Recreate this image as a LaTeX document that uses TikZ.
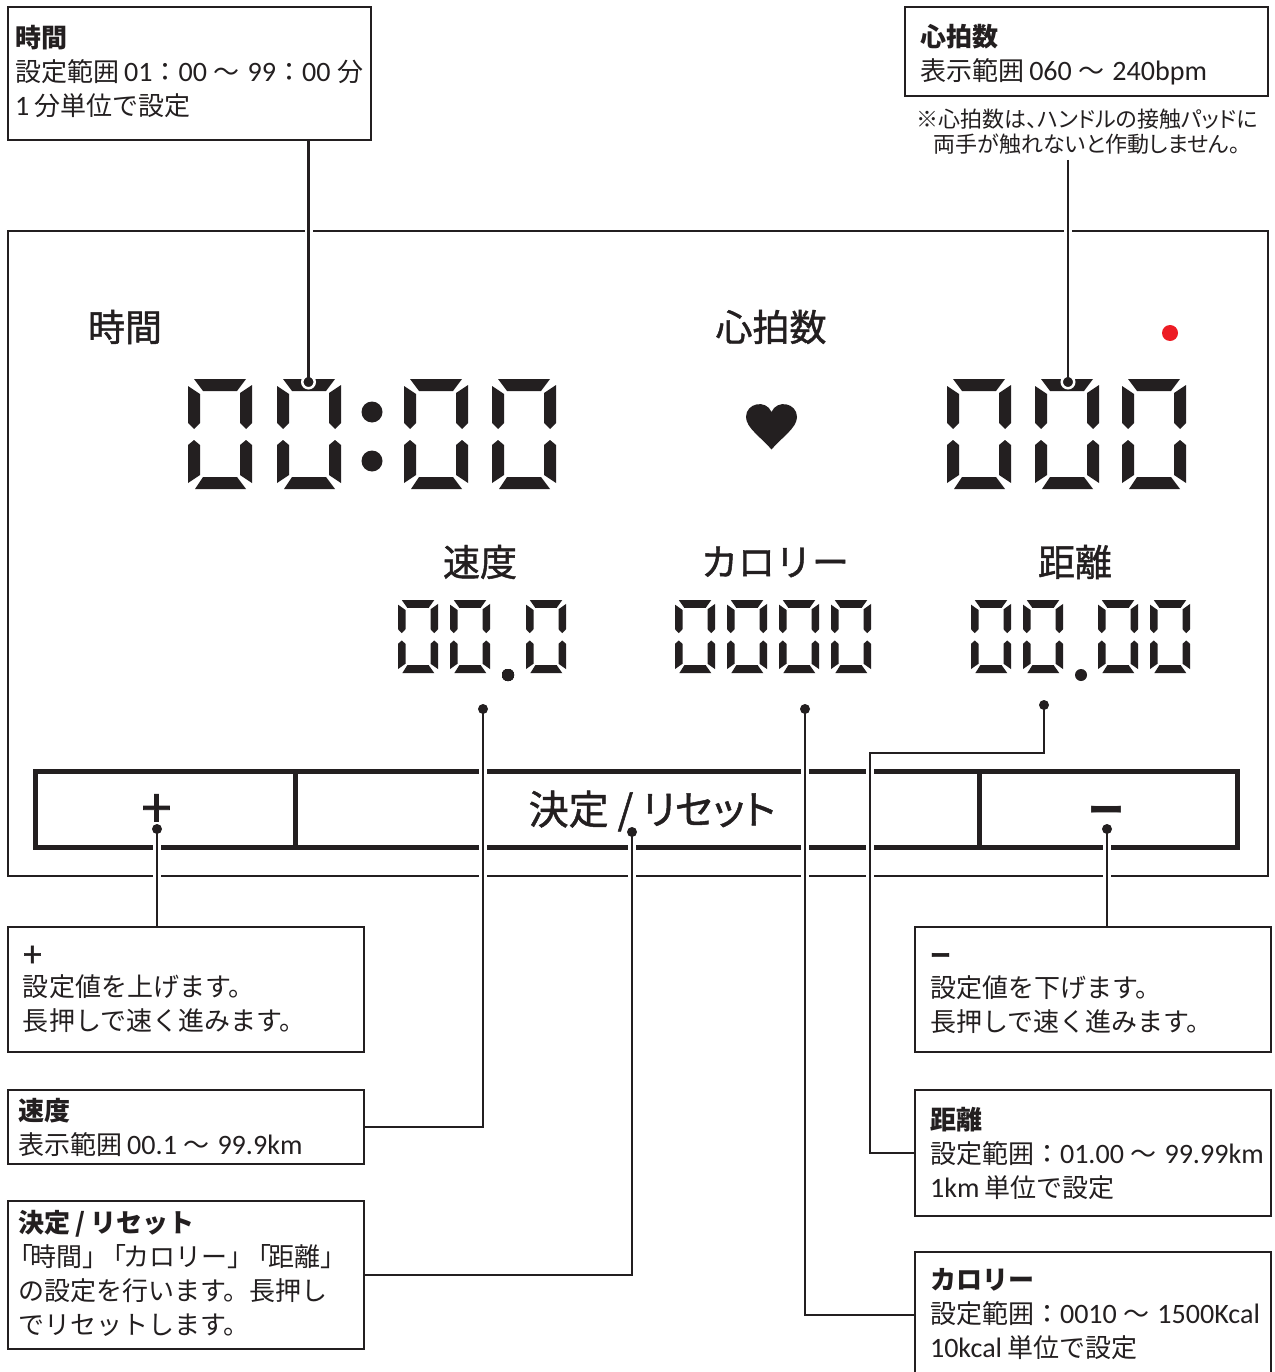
\documentclass[tikz,border=0pt]{standalone}
\usepackage{fontspec}
\setmainfont{Noto Sans CJK JP}[WordSpace=0.9]
\newfontfamily\la{Carlito}[Scale=1.08]
\newfontfamily\pj{Noto Sans CJK JP}[RawFeature=+palt]
\newfontfamily\semi{Noto Sans CJK JP}[FakeBold=1.2]
\newfontfamily\semip{Noto Sans CJK JP}[FakeBold=1.2,RawFeature=+palt]
\newcommand{\lt}[1]{{\la #1}}
\newcommand{\wv}{\kern1pt〜\kern3pt}
\definecolor{ink}{HTML}{231F20}
\definecolor{pulsered}{HTML}{ED1C24}
\newcommand{\segdigit}[4]{% x, y, xscale, yscale
\begin{scope}[shift={(#1,#2)},xscale=#3,yscale=#4]
\fill[ink] (6,0)--(58,0)--(49,12)--(15,12)--cycle;
\fill[ink] (7,110)--(58,110)--(49,98)--(15,98)--cycle;
\fill[ink] (0,7)--(12,15)--(12,44)--(6,50)--(0,44)--cycle;
\fill[ink] (64,6)--(52,14)--(52,44)--(58,50)--(64,44)--cycle;
\fill[ink] (0,66)--(6,61)--(12,66)--(12,96)--(0,104)--cycle;
\fill[ink] (64,66)--(58,61)--(52,66)--(52,96)--(64,104)--cycle;
\end{scope}}
\tikzset{
  every node/.style={outer sep=0pt},
  casing/.style={draw=white,line width=8pt},
  lead/.style={draw=ink,line width=2.4pt,line join=miter},
  leaddot/.style={circle,fill=ink,inner sep=0pt,minimum size=10pt},
  ringdot/.style={circle,fill=ink,draw=white,line width=2.5pt,inner sep=0pt,minimum size=12.5pt},
  lcd dot/.style={circle,fill=ink,inner sep=0pt},
  panel label/.style={text=ink,font=\fontsize{37}{40}\semi\selectfont,inner sep=0pt},
  callout/.style={draw=ink,line width=2.4pt,fill=white,anchor=north west,inner sep=0pt},
  calltext/.style={anchor=north west,align=left,inner sep=0pt,text=ink,
     font=\fontsize{26}{34}\selectfont},
}
\newcommand{\hd}[1]{\vrule height 30pt width 0pt\relax{\bfseries #1}}
\begin{document}
\begin{tikzpicture}[x=1pt,y=-1pt]
\useasboundingbox (0,0) rectangle (1274,1372);
\clip (0,0) rectangle (1274,1372);
\fill[white] (0,0) rectangle (1274,1372);
% panel
\node[draw=ink,line width=2.4pt,anchor=north west,minimum width=1260pt,minimum height=645pt,inner sep=0pt] (panel) at (8,231) {};
% button bar
\node[draw=ink,line width=5pt,anchor=north west,minimum width=1202pt,minimum height=76pt,inner sep=0pt] (bar) at (35.5,771) {};
\coordinate (divA) at (295.5,771);
\coordinate (divB) at (979,771);
\draw[ink,line width=5pt] (divA) -- (divA |- bar.south);
\draw[ink,line width=5pt] (divB) -- (divB |- bar.south);
% digits
\segdigit{188}{379}{1}{1}
\segdigit{277}{379}{1}{1}
\segdigit{404}{379}{1}{1}
\segdigit{492}{379}{1}{1}
\segdigit{947}{379}{1}{1}
\segdigit{1035}{379}{1}{1}
\segdigit{1122}{379}{1}{1}
\node[lcd dot,minimum size=21pt] (colA) at (372,412) {};
\node[lcd dot,minimum size=21pt] (colB) at (372,461) {};
\foreach \x in {398,450,526,675,727,779,831,971,1023,1098,1150}
  \segdigit{\x}{600}{0.625}{0.664}
\node[lcd dot,minimum size=12pt] (decA) at (508,675) {};
\node[lcd dot,minimum size=12pt] (decB) at (1081,675) {};
\node[circle,fill=pulsered,inner sep=0pt,minimum size=16pt] (pulse) at (1170,333) {};
% heart
\fill[ink] (771.5,449.5) .. controls (762,438) and (746,428) .. (746,417)
  .. controls (746,403) and (766,399) .. (771.5,412)
  .. controls (777,399) and (797,403) .. (797,417)
  .. controls (797,428) and (781,438) .. (771.5,449.5) -- cycle;
% callout boxes
\node[callout,minimum width=363pt,minimum height=133pt] (boxTime) at (8,7) {};
\node[callout,minimum width=363pt,minimum height=89pt] (boxHeart) at (905,7) {};
\node[callout,minimum width=356pt,minimum height=125pt] (boxPlus) at (8,927) {};
\node[callout,minimum width=356pt,minimum height=74pt] (boxSpeed) at (8,1090) {};
\node[callout,minimum width=356pt,minimum height=148pt] (boxSet) at (8,1201) {};
\node[callout,minimum width=356pt,minimum height=125pt] (boxMinus) at (915,927) {};
\node[callout,minimum width=356pt,minimum height=126pt] (boxDist) at (915,1090) {};
\node[callout,minimum width=356pt,minimum height=126pt] (boxCal) at (915,1252) {};
\node[calltext] (tTime) at (15,17.5) {\hd{時間}\\設定範囲 \lt{01}：\lt{00} \wv{} \lt{99}：\lt{00} \kern2pt分\\\lt{1} 分単位で設定};
\node[calltext] (tHeart) at (920,17) {\hd{心拍数}\\表示範囲 \lt{060} \wv{} \lt{240bpm}};
\node[calltext] (tPlus) at (23,932) {\vrule height 30pt width 0pt\relax{\fontsize{34}{34}\semi\selectfont\raisebox{-5pt}{+}}\\設定値を上げます。\\長押しで速く進みます。};
\node[calltext] (tSpeed) at (18,1090) {\hd{速度}\\表示範囲 \lt{00.1} \wv{} \lt{99.9km}};
\node[calltext] (tSet) at (18,1202) {\hd{決定 / リセット}\\\kern-11pt「\kern-3pt時間」\kern-8pt「\kern-3ptカロリー」\kern-8pt「\kern-3pt距離」\\の設定を行います。長押し\\でリセットします。};
\node[calltext] (tMinus) at (930,933) {\hd{\fontsize{21}{34}\selectfont ー}\\設定値を下げます。\\長押しで速く進みます。};
\node[calltext] (tDist) at (930,1099) {\hd{距離}\\設定範囲：\lt{01.00} \wv{} \lt{99.99km}\\\lt{1km} 単位で設定};
\node[calltext] (tCal) at (930,1259) {\hd{カロリー}\\設定範囲：\lt{0010} \wv{} \lt{1500Kcal}\\\lt{10kcal} 単位で設定};
% connector end dots
\coordinate (noteEnd) at (1068,160);
\node[ringdot] (dTime) at (308.5,382) {};
\node[ringdot] (dHeart) at (1068,382) {};
\node[leaddot] (dSpeed) at (483,709) {};
\node[leaddot] (dSet) at (632,832) {};
\node[leaddot] (dCal) at (805,709) {};
\node[leaddot] (dDist) at (1044,705) {};
\node[leaddot] (dPlus) at (157,829) {};
\node[leaddot] (dMinus) at (1107,829) {};
\coordinate (bend) at (870,753);
% casings
\draw[casing] (dTime.center |- panel.north) ++(0,-6) -- ++(0,12);
\draw[casing] (dHeart.center |- panel.north) ++(0,-6) -- ++(0,12);
\foreach \d in {dSpeed,dSet,dCal,dPlus,dMinus}
  \draw[casing] (\d |- bar.south) ++(0,-6) -- ++(0,12) (\d |- panel.south) ++(0,-6) -- ++(0,12);
\foreach \d in {dSpeed,dCal}
  \draw[casing] (\d |- bar.north) ++(0,-6) -- ++(0,12);
\draw[casing] (bend |- bar.north) ++(0,-6) -- ++(0,12) (bend |- bar.south) ++(0,-6) -- ++(0,12) (bend |- panel.south) ++(0,-6) -- ++(0,12);
% connectors
\draw[lead] (boxTime.south -| dTime) -- (dTime.center);
\draw[lead] (noteEnd) -- (dHeart.center);
\draw[lead] (dSpeed.center) |- (boxSpeed.east);
\draw[lead] (dSet.center) |- (boxSet.east);
\draw[lead] (dCal.center) |- (boxCal.west);
\draw[lead] (dDist.center) |- (bend) |- (boxDist.west);
\draw[lead] (dPlus.center) -- (dPlus |- boxPlus.north);
\draw[lead] (dMinus.center) -- (dMinus |- boxMinus.north);
% panel labels
\node[panel label] (lTime) at (125,327) {時間};
\node[panel label] (lHeart) at (771,327) {心拍数};
\node[panel label] (lSpeed) at (480,562) {速度};
\node[panel label] (lCal) at (775,562) {カロリー};
\node[panel label] (lDist) at (1075,562) {距離};
\node[panel label,font=\fontsize{40}{44}\semip\selectfont] (lSet) at (652,811) {決定 / リセット};
\node[panel label,font=\fontsize{54}{50}\semi\selectfont] (lPlus) at (156.5,811) {+};
\node[panel label,font=\fontsize{36}{50}\bfseries\selectfont] (lMinus) at (1106.5,815) {ー};
\node[text=ink,align=center,inner sep=0pt,font=\fontsize{22}{25}\pj\selectfont] (note) at (1087,132) {※心拍数は、ハンドルの接触パッドに\\両手が触れないと作動しません。};
\end{tikzpicture}
\end{document}
